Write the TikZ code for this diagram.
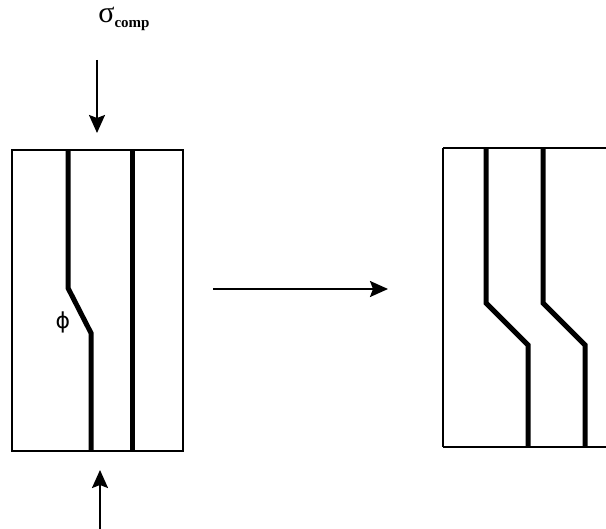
\documentclass[tikz,border=0pt]{standalone}
\usepackage{fontspec}
\setmainfont{Liberation Serif}
\newfontfamily\symfont{DejaVu Sans}
\usetikzlibrary{arrows.meta}
\tikzset{
  box/.style={draw=black, line width=1.5pt},
  fault/.style={draw=black, line width=5pt, line join=miter},
  force/.style={draw=black, line width=2pt, -{Stealth[length=18pt,width=16pt,inset=3pt]}},
}
\begin{document}
\begin{tikzpicture}[x=1pt,y=-1pt]
\useasboundingbox (0,0) rectangle (606,529);
% left block
\draw[box] (12,150) rectangle (183,451);
\draw[fault] (68,150) -- (68,288) -- (91,333) -- (91,451);
\draw[fault] (132,150) -- (132,451);
\node[font=\symfont\fontsize{22}{22}\selectfont] (phi) at (63,322) {ϕ};
% right block
\draw[box] (443,148) -- (606,148);
\draw[box] (443,447) -- (606,447);
\draw[box] (443,148) -- (443,447);
\draw[fault] (486,148) -- (486,303) -- (528,345) -- (528,447);
\draw[fault] (543,148) -- (543,303) -- (585,345) -- (585,447);
% labels and arrows
\node[inner sep=0pt] (sig) at (124,19) {\fontsize{30}{30}\selectfont σ\raisebox{-5pt}{\fontsize{15}{15}\selectfont\bfseries comp}};
\coordinate (t0) at (97,60);
\coordinate (t1) at (97,133);
\draw[force] (t0) -- (t1);
\coordinate (b0) at (100,529);
\coordinate (b1) at (100,470);
\draw[force] (b0) -- (b1);
\coordinate (m0) at (213,289);
\coordinate (m1) at (388,289);
\draw[force] (m0) -- (m1);
\end{tikzpicture}
\end{document}
